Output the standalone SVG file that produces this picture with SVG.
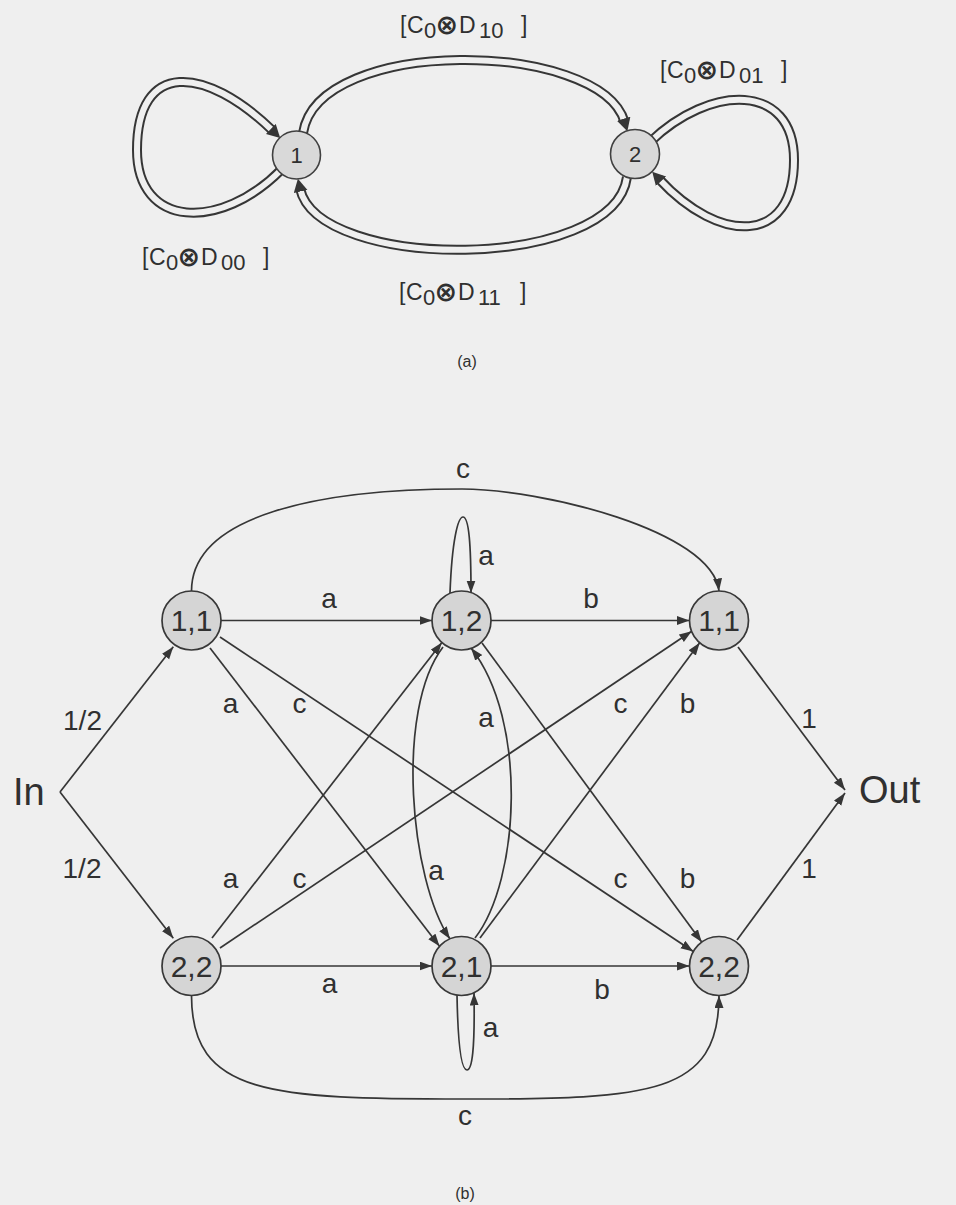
<svg xmlns="http://www.w3.org/2000/svg" width="956" height="1205" viewBox="0 0 956 1205">
<style>
.bg{fill:#efefef}
.dblo{fill:none;stroke:#363636;stroke-width:10}
.dbli{fill:none;stroke:#efefef;stroke-width:6}
.nodeA{fill:#d9d9d9;stroke:#404040;stroke-width:1.6}
.nodeB{fill:#d5d5d5;stroke:#383838;stroke-width:1.7}
.edge{fill:none;stroke:#363636;stroke-width:1.7}
.t{font-family:"Liberation Sans",Arial,sans-serif;fill:#303030}
.lbl{font-family:"Liberation Sans",Arial,sans-serif;font-size:23px;fill:#303030}
.sub{font-size:22px}
.ot{font-family:"DejaVu Sans",sans-serif;font-size:27px;font-weight:bold}
.nlA{font-size:22px;text-anchor:middle}
.nlB{font-size:30px;text-anchor:middle}
.el{font-size:28px;text-anchor:middle}
.cap{font-size:16px;text-anchor:middle}
.io{font-size:38px}
</style>
<defs>
<marker id="ah" markerUnits="userSpaceOnUse" markerWidth="13" markerHeight="10" refX="12.5" refY="4.5" orient="auto">
<path d="M0,0 L12.5,4.5 L0,9 z" fill="#363636"/>
</marker>
<marker id="ahd" markerUnits="userSpaceOnUse" markerWidth="14" markerHeight="15" refX="3" refY="7" orient="auto">
<path d="M0,0 L13,7 L0,14 z" fill="#363636"/>
</marker>
</defs>
<rect class="bg" x="0" y="0" width="956" height="1205"/>

<!-- Part (a) connectors -->
<g id="connectors-a">
<path class="dblo" d="M282,169 C220,232 137,228 137,150 C137,60 205,65 273,131"/>
<path class="dbli" d="M282,169 C220,232 137,228 137,150 C137,60 205,65 273,131" marker-end="url(#ahd)"/>
<path class="dblo" d="M650,142 C710,84 794,82 794,160 C794,245 720,245 659,179"/>
<path class="dbli" d="M650,142 C710,84 794,82 794,160 C794,245 720,245 659,179" marker-end="url(#ahd)"/>
<path class="dblo" d="M303,133 C318,35 600,40 624.5,121.6"/>
<path class="dbli" d="M303,133 C318,35 600,40 624.5,121.6" marker-end="url(#ahd)"/>
<path class="dblo" d="M627,177 C614,272 318,272 300,188.5"/>
<path class="dbli" d="M627,177 C614,272 318,272 300,188.5" marker-end="url(#ahd)"/>
</g>
<g id="node-a1"><circle class="nodeA" cx="296.5" cy="155" r="24"/><text class="t nlA" x="296.5" y="163">1</text></g>
<g id="node-a2"><circle class="nodeA" cx="635" cy="154" r="24.5"/><text class="t nlA" x="635" y="162">2</text></g>
<g id="labels-a">
<text class="lbl"><tspan x="400" y="33">[</tspan><tspan x="407" y="33">C</tspan><tspan class="sub" x="424" y="38">0</tspan><tspan class="ot" x="435.5" y="34">⊗</tspan><tspan x="459" y="33">D</tspan><tspan class="sub" x="479" y="38">10</tspan><tspan x="521" y="33">]</tspan></text>
<text class="lbl"><tspan x="660" y="78">[</tspan><tspan x="667" y="78">C</tspan><tspan class="sub" x="684" y="83">0</tspan><tspan class="ot" x="695.5" y="79">⊗</tspan><tspan x="719" y="78">D</tspan><tspan class="sub" x="739" y="83">01</tspan><tspan x="781" y="78">]</tspan></text>
<text class="lbl"><tspan x="142" y="265">[</tspan><tspan x="149" y="265">C</tspan><tspan class="sub" x="166" y="270">0</tspan><tspan class="ot" x="177.5" y="266">⊗</tspan><tspan x="201" y="265">D</tspan><tspan class="sub" x="221" y="270">00</tspan><tspan x="263" y="265">]</tspan></text>
<text class="lbl"><tspan x="399" y="300">[</tspan><tspan x="406" y="300">C</tspan><tspan class="sub" x="423" y="305">0</tspan><tspan class="ot" x="434.5" y="301">⊗</tspan><tspan x="458" y="300">D</tspan><tspan class="sub" x="478" y="305">11</tspan><tspan x="520" y="300">]</tspan></text>
<text class="t cap" x="467" y="367">(a)</text>
</g>

<!-- Part (b) connectors -->
<g id="connectors-b">
<path class="edge" d="M60,792 L173.3,646.7" marker-end="url(#ah)"/>
<path class="edge" d="M60,792 L173.3,938.3" marker-end="url(#ah)"/>
<path class="edge" d="M221,620.5 L432,620.5" marker-end="url(#ah)"/>
<path class="edge" d="M491,620.5 L689.5,620.5" marker-end="url(#ah)"/>
<path class="edge" d="M221,966 L432,966" marker-end="url(#ah)"/>
<path class="edge" d="M491,966 L689.5,966" marker-end="url(#ah)"/>
<path class="edge" d="M210,648 L439.5,946.3" marker-end="url(#ah)"/>
<path class="edge" d="M220,637 L693.3,951.5" marker-end="url(#ah)"/>
<path class="edge" d="M212,938 L441.9,642.6" marker-end="url(#ah)"/>
<path class="edge" d="M220,948 L691.7,631.3" marker-end="url(#ah)"/>
<path class="edge" d="M482,643 L701.7,942.1" marker-end="url(#ah)"/>
<path class="edge" d="M480,938 L699.7,642.8" marker-end="url(#ah)"/>
<path class="edge" d="M738,647 L845,790" marker-end="url(#ah)"/>
<path class="edge" d="M737,940 L845,793" marker-end="url(#ah)"/>
<path class="edge" d="M443,647 C395,710 410,880 450,939" marker-end="url(#ah)"/>
<path class="edge" d="M475,938 C520,880 528,720 471,648" marker-end="url(#ah)"/>
<path class="edge" d="M191.5,591 C191.5,515 320,489 462,489 C540,489 712,530 719,591" marker-end="url(#ah)"/>
<path class="edge" d="M450,593 C452,540 458,517 463,517 C469,517 471,545 471,593" marker-end="url(#ah)"/>
<path class="edge" d="M457,995 C458,1050 462,1070 467,1070 C472,1070 475,1050 474,993" marker-end="url(#ah)"/>
<path class="edge" d="M191.5,995.5 C191.5,1095 270,1099 466,1099 C650,1099 719,1095 719,995.5" marker-end="url(#ah)"/>
</g>
<g id="node-11a"><circle class="nodeB" cx="191.5" cy="620.5" r="29.5"/><text class="t nlB" x="191.5" y="631">1,1</text></g>
<g id="node-22a"><circle class="nodeB" cx="191.5" cy="966" r="29.5"/><text class="t nlB" x="191.5" y="976.5">2,2</text></g>
<g id="node-12"><circle class="nodeB" cx="461.5" cy="620.5" r="29.5"/><text class="t nlB" x="461.5" y="631">1,2</text></g>
<g id="node-21"><circle class="nodeB" cx="461.5" cy="966" r="29.5"/><text class="t nlB" x="461.5" y="976.5">2,1</text></g>
<g id="node-11b"><circle class="nodeB" cx="719" cy="620.5" r="29.5"/><text class="t nlB" x="719" y="631">1,1</text></g>
<g id="node-22b"><circle class="nodeB" cx="719" cy="966" r="29.5"/><text class="t nlB" x="719" y="976.5">2,2</text></g>
<g id="node-in"><text class="t io" x="13" y="805">In</text></g>
<g id="node-out"><text class="t io" x="859" y="803">Out</text></g>
<g id="labels-b">
<text class="t el" x="463" y="478">c</text>
<text class="t el" x="329" y="608">a</text>
<text class="t el" x="591" y="608">b</text>
<text class="t el" x="486" y="565">a</text>
<text class="t el" x="82.5" y="730">1/2</text>
<text class="t el" x="82" y="878">1/2</text>
<text class="t el" x="230.5" y="713">a</text>
<text class="t el" x="299.5" y="713">c</text>
<text class="t el" x="486" y="727">a</text>
<text class="t el" x="620.5" y="713">c</text>
<text class="t el" x="687.5" y="713">b</text>
<text class="t el" x="809" y="728">1</text>
<text class="t el" x="230.5" y="888">a</text>
<text class="t el" x="299.5" y="888">c</text>
<text class="t el" x="436" y="880">a</text>
<text class="t el" x="620.5" y="888">c</text>
<text class="t el" x="687.5" y="888">b</text>
<text class="t el" x="809" y="878">1</text>
<text class="t el" x="329.5" y="993">a</text>
<text class="t el" x="602" y="999">b</text>
<text class="t el" x="490.5" y="1037">a</text>
<text class="t el" x="465" y="1125">c</text>
<text class="t cap" x="465" y="1199">(b)</text>
</g>
</svg>
